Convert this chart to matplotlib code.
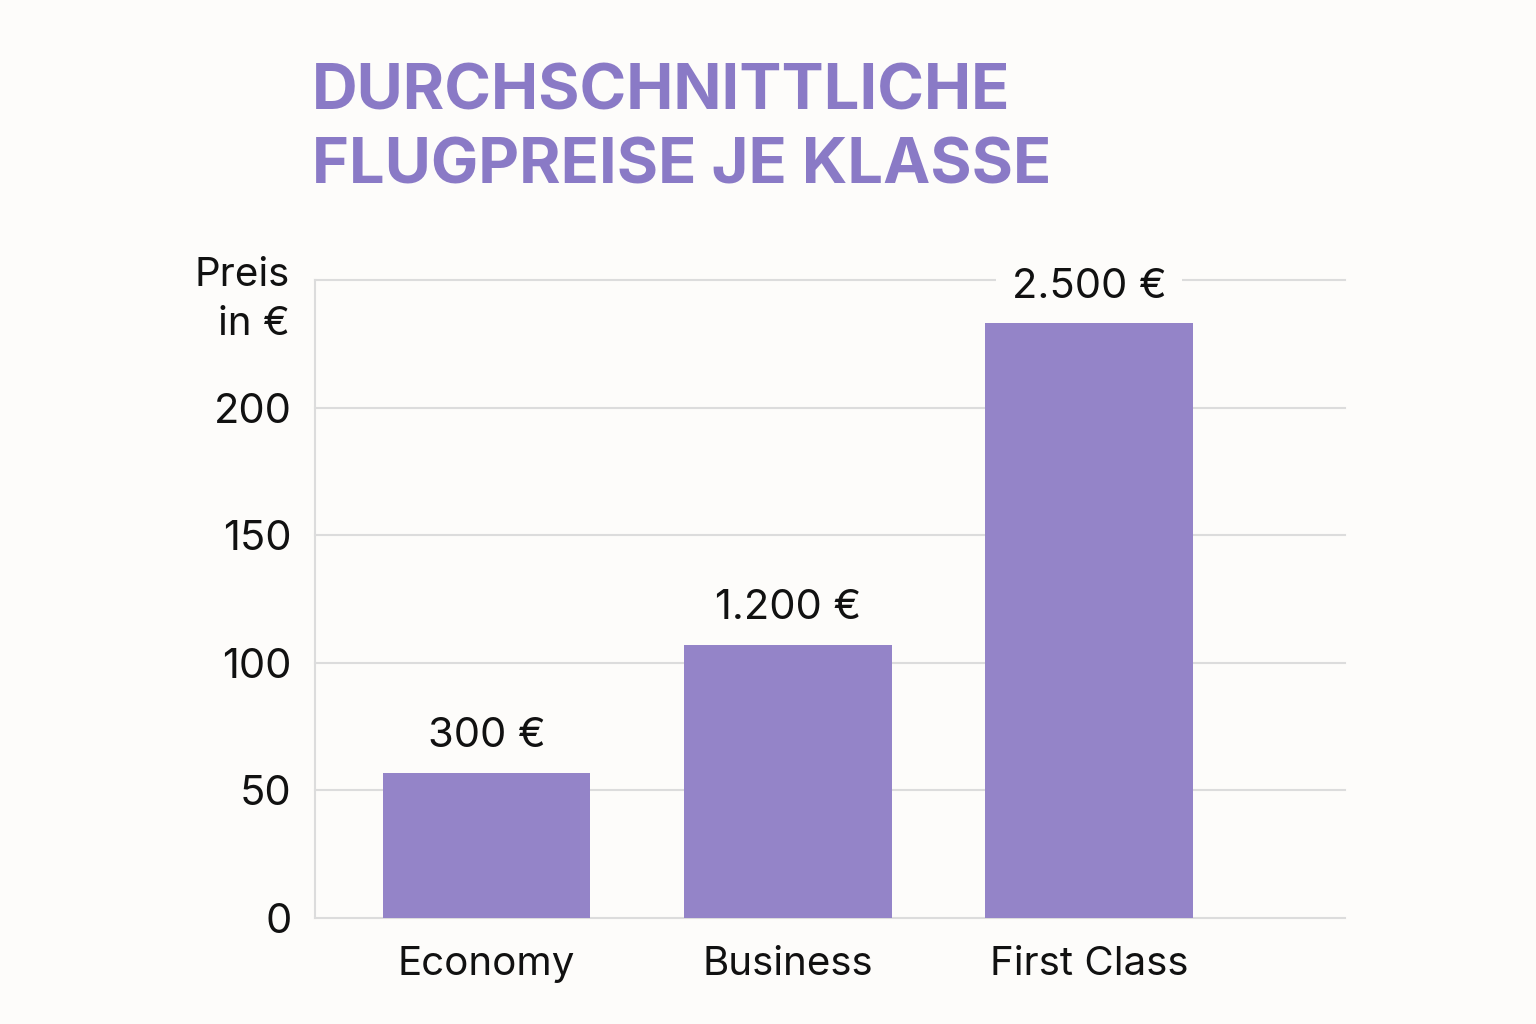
import matplotlib
matplotlib.use("Agg")
import matplotlib.pyplot as plt

# Daten
klassen = ["Economy", "Business", "First Class"]
hoehen = [57, 107, 233]            # Balkenhöhe auf der Achse
beschriftung = ["300 €", "1.200 €", "2.500 €"]
yticks = [0, 50, 100, 150, 200]

lila = "#9484C8"
titel_lila = "#8A7AC6"
grau = "#DCDCDC"
hintergrund = "#FDFCFA"

plt.rcParams['font.family'] = ['Inter', 'DejaVu Sans']

fig = plt.figure(figsize=(15.36, 10.24), dpi=100, facecolor=hintergrund)
ax = fig.add_axes([0.205, 0.1035, 0.6706, 0.623])
ax.set_facecolor(hintergrund)

x = range(len(klassen))
ax.bar(x, hoehen, width=0.69, color=lila, zorder=2)

ax.set_xlim(-0.57, 2.85)
ax.set_ylim(0, 250)

# Gitterlinien
for y in yticks + [250]:
    ax.axhline(y, color=grau, lw=1.5, zorder=1, clip_on=False)

for s in ["top", "right", "bottom"]:
    ax.spines[s].set_visible(False)
ax.spines["left"].set_color(grau)
ax.spines["left"].set_linewidth(1.5)

ax.set_yticks(yticks)
ax.set_yticklabels([str(v) for v in yticks], fontsize=30, color="#111111")
ax.tick_params(axis="y", length=0, pad=17)
ax.set_xticks(list(x))
ax.set_xticklabels(klassen, fontsize=29, color="#111111")
ax.tick_params(axis="x", length=0, pad=20)

# Wertebeschriftung
for xi, h, t in zip(x, hoehen, beschriftung):
    ax.text(xi, h + 7, t, ha="center", va="bottom", fontsize=30,
            color="#111111", zorder=3,
            bbox=dict(facecolor=hintergrund, edgecolor="none", pad=11))

ax.text(-0.0243, 0.969, "Preis\nin €", transform=ax.transAxes, ha="right",
        va="center", fontsize=29, color="#111111", linespacing=1.4)

fig.text(0.203, 0.873, "DURCHSCHNITTLICHE\nFLUGPREISE JE KLASSE",
         fontsize=45.5, fontweight="bold", color=titel_lila,
         ha="left", va="center", linespacing=1.33)

fig.savefig("out.png", dpi=100, facecolor=hintergrund)
